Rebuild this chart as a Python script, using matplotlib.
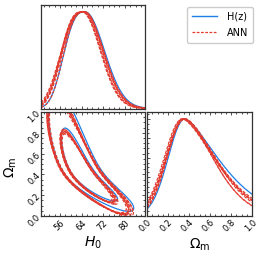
import numpy as np
import matplotlib
matplotlib.use("Agg")
import matplotlib.pyplot as plt
from matplotlib.ticker import MultipleLocator, FixedLocator
from matplotlib.lines import Line2D

# ---------------- data ----------------
series_labels = ["H(z)", "ANN"]
h0_ticks = [56, 64, 72, 80]
om_ticks = [0.0, 0.2, 0.4, 0.6, 0.8, 1.0]
h0_range = (49.0, 87.5)
om_range = (0.0, 1.0)

# 1D marginal of H0: peak, left width, left shape, right width, right shape
hz_h0_peak, hz_h0_sl, hz_h0_bl, hz_h0_sr, hz_h0_br = 65.3, 7.5, 2.8, 7.1, 2.0
ann_h0_peak = [64.4, 64.9, 64.2, 65.1, 64.7, 64.4, 64.9, 65.2]
ann_h0_sl = [7.7, 8.0, 7.5, 7.8, 8.1, 7.6, 7.9, 7.4]
ann_h0_bl = [2.7, 2.6, 2.8, 2.7, 2.6, 2.75, 2.65, 2.8]
ann_h0_sr = [6.7, 6.95, 6.6, 7.0, 6.85, 6.65, 6.9, 6.8]
ann_h0_br = [2.0, 2.0, 2.0, 2.0, 2.0, 2.0, 2.0, 2.0]

# 1D marginal of Omega_m
hz_om_peak, hz_om_sl, hz_om_bl, hz_om_sr, hz_om_br = 0.36, 0.157, 2.0, 0.307, 1.49
ann_om_peak = [0.35, 0.36, 0.34, 0.365, 0.35, 0.335, 0.358, 0.352]
ann_om_sl = [0.16, 0.175, 0.165, 0.18, 0.162, 0.17, 0.176, 0.158]
ann_om_bl = [2.0, 2.0, 2.0, 2.0, 2.0, 2.0, 2.0, 2.0]
ann_om_sr = [0.29, 0.28, 0.30, 0.285, 0.27, 0.295, 0.265, 0.29]
ann_om_br = [1.6, 1.65, 1.55, 1.6, 1.7, 1.58, 1.7, 1.62]

# 2D posterior shape: H0 centre/width, correlation, Om centre, lower/upper Om widths
hz_c_h0, hz_c_sh, hz_c_rho, hz_c_om, hz_c_slo, hz_c_shi = 66.8, 7.52, -0.917, 0.35, 0.102, 0.40
ann_c_h0 = [66.0, 66.7, 65.7, 66.4, 67.0, 65.9, 66.5, 66.2]
ann_c_sh = [7.1, 7.5, 6.9, 7.3, 7.6, 7.2, 7.0, 7.4]
ann_c_rho = [-0.915, -0.92, -0.91, -0.918, -0.922, -0.912, -0.916, -0.919]
ann_c_om = [0.35, 0.345, 0.355, 0.35, 0.34, 0.352, 0.348, 0.356]
ann_c_slo = [0.116, 0.121, 0.112, 0.118, 0.124, 0.114, 0.118, 0.122]
ann_c_shi = [0.37, 0.355, 0.38, 0.365, 0.37, 0.385, 0.355, 0.368]
bend_lo, bend_hi = -24.0, 6.4
chi2_levels = [2.30, 5.99]   # 68% and 95%

# ---------------- styling ----------------
BLUE = "#1f7fe6"
RED = "#e23a2e"
SPINE = "#333333"
plt.rcParams["font.family"] = ["DejaVu Sans"]

W, H = 266, 258
fig = plt.figure(figsize=(W / 100, H / 100), dpi=100)

ax_top = fig.add_axes([41 / W, 1 - 108.5 / H, 104 / W, 103.5 / H])
ax_2d = fig.add_axes([41 / W, 1 - 216 / H, 104 / W, 104 / H])
ax_rt = fig.add_axes([147 / W, 1 - 216 / H, 105 / W, 104 / H])


def marg(x, peak, sl, bl, sr, br):
    d = x - peak
    s = np.where(d < 0, sl, sr)
    b = np.where(d < 0, bl, br)
    return np.exp(-0.5 * np.abs(d / s) ** b)


hgrid = np.linspace(44, 92, 600)
wgrid = np.linspace(-0.1, 1.2, 1300)
Hg, Wg = np.meshgrid(hgrid, wgrid)


def qform(c_h0, c_sh, rho, c_om, slo, shi, tau=0.08, shift=0.07):
    # smoothly varying Omega_m scale -> stretched coordinate b(w)
    sig = slo + (shi - slo) / (1.0 + np.exp(-(wgrid - c_om - shift) / tau))
    inv = 1.0 / sig
    cum = np.concatenate([[0.0], np.cumsum(0.5 * (inv[1:] + inv[:-1]) * np.diff(wgrid))])
    b1 = cum - np.interp(c_om, wgrid, cum)
    d = wgrid - c_om
    bend1 = np.where(d < 0, bend_lo, bend_hi) * d ** 2
    b = b1[:, None]
    a = (Hg - c_h0 - bend1[:, None]) / c_sh
    return (a * a - 2 * rho * a * b + b * b) / (1 - rho ** 2)


hx = np.linspace(h0_range[0], h0_range[1], 400)
ox = np.linspace(om_range[0], om_range[1], 400)

lw_b, lw_r = 0.9, 0.85
dash = (0, (2.6, 1.4))

# top: H0 marginal
ax_top.plot(hx, marg(hx, hz_h0_peak, hz_h0_sl, hz_h0_bl, hz_h0_sr, hz_h0_br), color=BLUE, lw=lw_b)
for i in range(len(ann_h0_peak)):
    ax_top.plot(hx, marg(hx, ann_h0_peak[i], ann_h0_sl[i], ann_h0_bl[i], ann_h0_sr[i], ann_h0_br[i]),
                color=RED, lw=lw_r, ls=dash)

# right: Om marginal
ax_rt.plot(ox, marg(ox, hz_om_peak, hz_om_sl, hz_om_bl, hz_om_sr, hz_om_br), color=BLUE, lw=lw_b)
for i in range(len(ann_om_peak)):
    ax_rt.plot(ox, marg(ox, ann_om_peak[i], ann_om_sl[i], ann_om_bl[i], ann_om_sr[i], ann_om_br[i]),
               color=RED, lw=lw_r, ls=dash)

# 2D contours
ax_2d.contour(Hg, Wg, qform(hz_c_h0, hz_c_sh, hz_c_rho, hz_c_om, hz_c_slo, hz_c_shi),
              levels=chi2_levels, colors=BLUE, linewidths=lw_b, linestyles="solid")
for i in range(len(ann_c_h0)):
    ax_2d.contour(Hg, Wg, qform(ann_c_h0[i], ann_c_sh[i], ann_c_rho[i], ann_c_om[i],
                                ann_c_slo[i], ann_c_shi[i]),
                  levels=chi2_levels, colors=RED, linewidths=lw_r, linestyles=[dash])

# axes cosmetics
for ax in (ax_top, ax_2d, ax_rt):
    for sp in ax.spines.values():
        sp.set_color(SPINE)
        sp.set_linewidth(0.9)
    ax.tick_params(which="both", direction="in", top=True, right=True, color=SPINE,
                   labelsize=6, pad=1.5, width=0.6)
    ax.tick_params(which="major", length=2.5)
    ax.tick_params(which="minor", length=1.5)

ax_top.set_xlim(*h0_range)
ax_top.set_ylim(0, 1.07)
ax_top.xaxis.set_major_locator(FixedLocator(h0_ticks))
ax_top.xaxis.set_minor_locator(MultipleLocator(2))
ax_top.set_xticklabels([])
ax_top.set_yticks([])
ax_top.tick_params(which="both", left=False, right=False)

ax_2d.set_xlim(*h0_range)
ax_2d.set_ylim(*om_range)
ax_2d.xaxis.set_major_locator(FixedLocator(h0_ticks))
ax_2d.xaxis.set_minor_locator(MultipleLocator(2))
ax_2d.yaxis.set_major_locator(FixedLocator(om_ticks))
ax_2d.yaxis.set_minor_locator(MultipleLocator(0.05))
ax_2d.set_xticklabels([str(t) for t in h0_ticks], rotation=45, ha="right", va="top",
                      rotation_mode="anchor")
ax_2d.set_yticklabels(["%.1f" % t for t in om_ticks], rotation=45, ha="right", va="center",
                      rotation_mode="anchor")
ax_2d.set_xlabel(r"$H_0$", fontsize=10, labelpad=2)
ax_2d.set_ylabel(r"$\Omega_{\rm m}$", fontsize=10)
ax_2d.yaxis.set_label_coords(-0.21, 0.47)

ax_rt.set_xlim(*om_range)
ax_rt.set_ylim(0, 1.07)
ax_rt.xaxis.set_major_locator(FixedLocator(om_ticks))
ax_rt.xaxis.set_minor_locator(MultipleLocator(0.05))
ax_rt.yaxis.set_major_locator(MultipleLocator(0.2))
ax_rt.yaxis.set_minor_locator(MultipleLocator(0.05))
ax_rt.set_xticklabels(["%.1f" % t for t in om_ticks], rotation=45, ha="right", va="top",
                      rotation_mode="anchor")
ax_rt.set_yticklabels([])
ax_rt.tick_params(which="both", right=False)
ax_rt.set_xlabel(r"$\Omega_{\rm m}$", fontsize=10, labelpad=2)

handles = [Line2D([], [], color=BLUE, lw=1.0),
           Line2D([], [], color=RED, lw=0.9, ls=(0, (2.2, 1.2)))]
fig.legend(handles, series_labels, loc="upper right", bbox_to_anchor=(253 / W, 1 - 7 / H),
           borderaxespad=0, fontsize=7, frameon=True, handlelength=2.6, borderpad=0.5,
           labelspacing=0.6, handletextpad=1.0, edgecolor="#cccccc", framealpha=1)

fig.savefig("out.png", dpi=100)
